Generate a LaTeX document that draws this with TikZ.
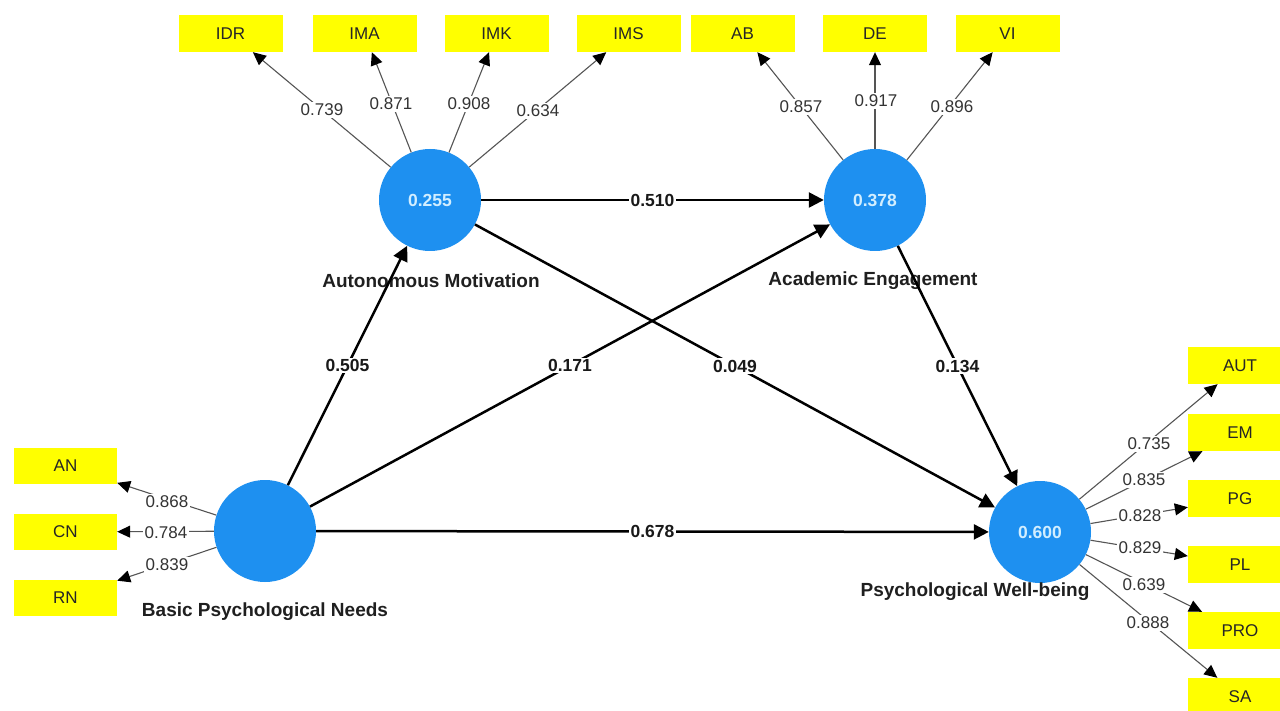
\documentclass[tikz,border=0pt]{standalone}
\usepackage{fontspec}
\setmainfont{Liberation Sans}
\usetikzlibrary{arrows.meta}
\definecolor{lvblue}{RGB}{30,144,240}
\definecolor{lvtext}{RGB}{210,238,255}
\definecolor{indyellow}{RGB}{255,255,0}
\definecolor{loadgray}{RGB}{85,85,85}

\begin{document}
\begin{tikzpicture}[x=1pt,y=-1pt,
  latent/.style={circle, fill=lvblue, minimum size=102pt, inner sep=0pt,
    font=\fontsize{17.5}{20}\selectfont\bfseries, text=lvtext},
  indicator/.style={rectangle, fill=indyellow, minimum width=104pt,
    minimum height=37pt, inner sep=0pt, text=black!85,
    font=\fontsize{17}{20}\selectfont},
  lvname/.style={font=\fontsize{19}{22}\selectfont\bfseries, text=black!88},
  structural/.style={line width=2.5pt, draw=black,
    -{Triangle[length=15pt,width=15pt]}},
  loading/.style={line width=1.1pt, draw=loadgray,
    -{Triangle[length=13pt,width=12pt,color=black]}},
  coef/.style={fill=white, inner sep=1.5pt, text=black!90,
    font=\fontsize{17.5}{20}\selectfont\bfseries},
  ldlabel/.style={fill=white, inner sep=1.5pt, text=black!80,
    font=\fontsize{17}{20}\selectfont},
]
\clip (0,0) rectangle (1280,711);
\fill[white] (0,0) rectangle (1280,711);

% latent variables
\node[latent] (am)  at (430,200)  {0.255};
\node[latent] (ae)  at (875,200)  {0.378};
\node[latent] (bpn) at (265,531)  {};
\node[latent] (pwb) at (1040,532) {0.600};

\node[lvname] (amname)  at (431,281) {Autonomous Motivation};
\node[lvname] (aename)  at (873,281) {Academic Engagement};
\node[lvname] (bpnname) at (265,612) {Basic Psychological Needs};
\node[lvname] (pwbname) at (975,592) {Psychological Well-being};

% indicators
\node[indicator] (idr) at (230.5,33.5) {IDR};
\node[indicator] (ima) at (364.5,33.5) {IMA};
\node[indicator] (imk) at (496.5,33.5) {IMK};
\node[indicator] (ims) at (628.5,33.5) {IMS};
\node[indicator] (ab)  at (742.5,33.5) {AB};
\node[indicator] (de)  at (875,33.5)   {DE};
\node[indicator] (vi)  at (1007.5,33.5) {VI};

\node[indicator, minimum width=103pt, minimum height=36pt] (an) at (65.5,466) {AN};
\node[indicator, minimum width=103pt, minimum height=36pt] (cn) at (65.5,532) {CN};
\node[indicator, minimum width=103pt, minimum height=36pt] (rn) at (65.5,598) {RN};

\node[indicator] (aut) at (1240,365.5) {AUT};
\node[indicator] (em)  at (1240,432.5) {EM};
\node[indicator] (pg)  at (1240,498.5) {PG};
\node[indicator] (pl)  at (1240,564.5) {PL};
\node[indicator] (pro) at (1240,630.5) {PRO};
\node[indicator] (sa)  at (1240,696.5) {SA};

% outer loadings
\draw[loading] (am) -- (idr);
\draw[loading] (am) -- (ima);
\draw[loading] (am) -- (imk);
\draw[loading] (am) -- (ims);
\draw[loading] (ae) -- (ab);
\draw[loading] (ae) -- (de);
\draw[loading] (ae) -- (vi);
\draw[loading] (bpn) -- (an);
\draw[loading] (bpn) -- (cn);
\draw[loading] (bpn) -- (rn);
\draw[loading] (pwb) -- (aut);
\draw[loading] (pwb) -- (em);
\draw[loading] (pwb) -- (pg);
\draw[loading] (pwb) -- (pl);
\draw[loading] (pwb) -- (pro);
\draw[loading] (pwb) -- (sa);

\node[ldlabel] (l-idr) at (322,110) {0.739};
\node[ldlabel] (l-ima) at (391,104) {0.871};
\node[ldlabel] (l-imk) at (469,104) {0.908};
\node[ldlabel] (l-ims) at (538,111) {0.634};
\node[ldlabel] (l-ab)  at (801,107) {0.857};
\node[ldlabel] (l-de)  at (876,101) {0.917};
\node[ldlabel] (l-vi)  at (952,107) {0.896};
\node[ldlabel] (l-an)  at (167,502) {0.868};
\node[ldlabel] (l-cn)  at (166,533) {0.784};
\node[ldlabel] (l-rn)  at (167,565) {0.839};
\node[ldlabel] (l-aut) at (1149,444) {0.735};
\node[ldlabel] (l-em)  at (1144,480) {0.835};
\node[ldlabel] (l-pg)  at (1140,516) {0.828};
\node[ldlabel] (l-pl)  at (1140,548) {0.829};
\node[ldlabel] (l-pro) at (1144,585) {0.639};
\node[ldlabel] (l-sa)  at (1148,623) {0.888};

% structural paths
\draw[structural] (am)  -- node[coef] {0.510} (ae);
\draw[structural] (bpn) -- node[coef] {0.505} (am);
\draw[structural] (am)  -- node[coef] {0.049} (pwb);
\draw[structural] (bpn) -- node[coef] {0.171} (ae);
\draw[structural] (ae)  -- node[coef] {0.134} (pwb);
\draw[structural] (bpn) -- node[coef] {0.678} (pwb);
\end{tikzpicture}
\end{document}
